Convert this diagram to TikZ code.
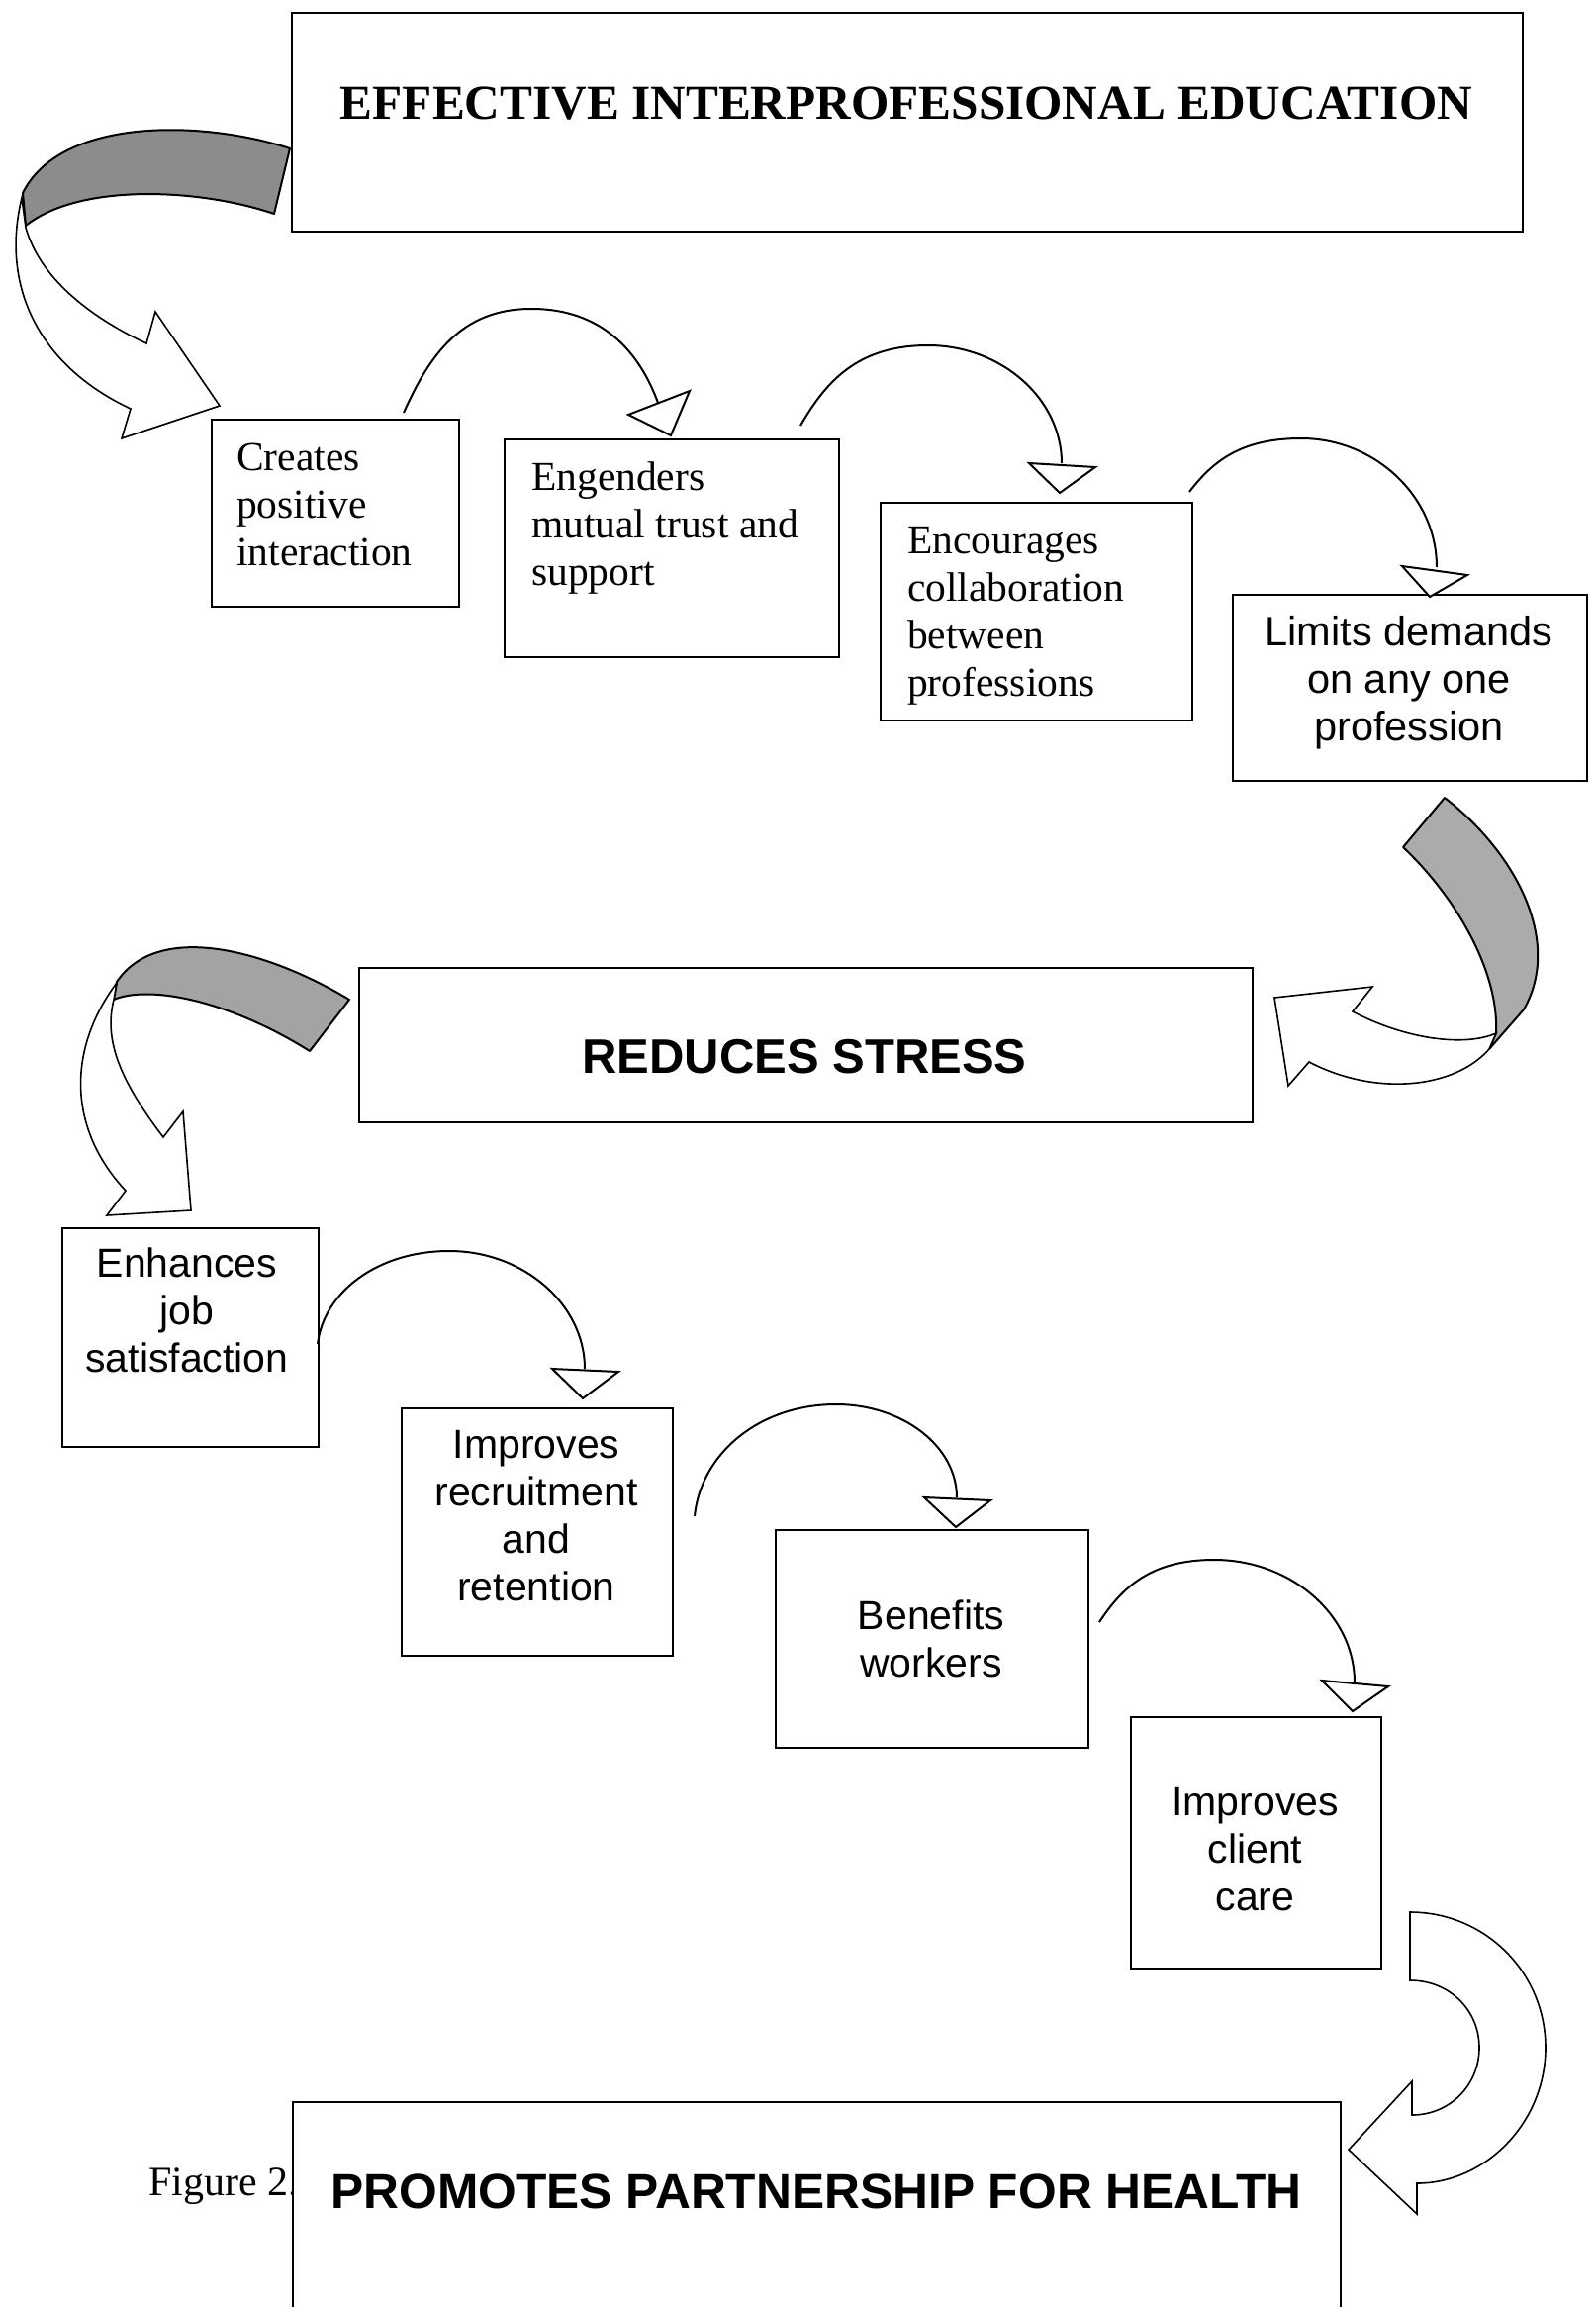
\documentclass[tikz,border=0pt]{standalone}
\usepackage{fontspec}
\setmainfont{Liberation Serif}
\setsansfont{Liberation Sans}
\begin{document}
\begin{tikzpicture}[x=1pt,y=-1pt,
  box/.style={draw=black, line width=2pt, fill=white, rectangle, inner sep=0pt, anchor=north west},
  serif/.style={inner sep=0pt, align=left, anchor=north west, font=\fontsize{41.5}{48}\selectfont},
  sans/.style={inner sep=0pt, align=center, anchor=north, font=\sffamily\fontsize{41}{48}\selectfont},
  link/.style={draw=black, line width=2pt},
  head/.style={draw=black, line width=2pt, fill=white, line join=miter},
  band/.style={draw=black, line width=2pt, line join=round},
  body/.style={draw=black, line width=1.6pt, fill=white, line join=miter}]

\useasboundingbox (0,0) rectangle (1613,2331);
\fill[white] (0,0) rectangle (1613,2331);

% ---------- ribbon arrow: education -> first step ----------
\draw[band, fill=black!45] (293,150) .. controls (200,120) and (60,120) .. (23,195)
  -- (26,228) .. controls (80,185) and (200,190) .. (277,216) -- cycle;
\draw[body] (22,200) .. controls (0,290) and (40,370) .. (132,413) -- (123,443) -- (222,410)
  -- (157,315) -- (148,347) .. controls (90,320) and (40,280) .. (26,230) -- cycle;

% ---------- ribbon arrow: limits demands -> reduces stress ----------
\draw[band, fill=black!33] (1460,806) .. controls (1530,860) and (1580,950) .. (1540,1020)
  -- (1505,1060) -- (1512,1044) .. controls (1515,980) and (1470,905) .. (1418,856) -- cycle;
\draw[body] (1512,1044) .. controls (1480,1058) and (1420,1050) .. (1367,1022) -- (1387,997)
  -- (1288,1008) -- (1302,1097) -- (1323,1073) .. controls (1390,1108) and (1470,1100) .. (1505,1060) -- cycle;

% ---------- ribbon arrow: reduces stress -> job satisfaction ----------
\draw[band, fill=black!36] (353,1010) .. controls (270,960) and (160,930) .. (118,992)
  -- (115,1010) .. controls (150,995) and (230,1010) .. (313,1062) -- cycle;
\draw[body] (118,993) .. controls (68,1060) and (68,1140) .. (127,1203) -- (108,1228) -- (193,1223)
  -- (185,1123) -- (165,1149) .. controls (120,1090) and (105,1050) .. (115,1010) -- cycle;

% ---------- U-turn arrow: client care -> partnership ----------
\draw[body] (1425,1932) .. controls (1501,1932) and (1562,1993) .. (1562,2069)
  .. controls (1562,2145) and (1501,2206) .. (1432,2206) -- (1432,2237) -- (1363,2172)
  -- (1427,2103) -- (1427,2137) .. controls (1465,2137) and (1495,2107) .. (1495,2069)
  .. controls (1495,2031) and (1465,2001) .. (1425,2001) -- cycle;

% ---------- boxes ----------
\node[box, line width=2.2pt, minimum width=1244pt, minimum height=221pt] (edu) at (294,12) {};
\node[box, minimum width=250pt, minimum height=189pt] (pos) at (213,423) {};
\node[box, minimum width=338pt, minimum height=220pt] (trust) at (509,443) {};
\node[box, minimum width=315pt, minimum height=220pt] (collab) at (889,507) {};
\node[box, minimum width=358pt, minimum height=188pt] (limits) at (1245,600) {};
\node[box, minimum width=903pt, minimum height=156pt] (stress) at (362,977) {};
\node[box, minimum width=259pt, minimum height=221pt] (job) at (62,1240) {};
\node[box, minimum width=274pt, minimum height=250pt] (recruit) at (405,1422) {};
\node[box, minimum width=316pt, minimum height=220pt] (workers) at (783,1545) {};
\node[box, minimum width=253pt, minimum height=254pt] (care) at (1142,1734) {};

% ---------- texts ----------
\node[inner sep=0pt, anchor=base, font=\bfseries\fontsize{49.3}{58}\selectfont] (eduT) at (916,120)
  {EFFECTIVE INTERPROFESSIONAL EDUCATION};
\node[serif] (posT) at (239,435) {\rule{0pt}{40pt}Creates\\positive\\interaction};
\node[serif] (trustT) at (537,455) {\rule{0pt}{40pt}Engenders\\mutual trust and\\support};
\node[serif] (collabT) at (917,519) {\rule{0pt}{40pt}Encourages\\collaboration\\between\\professions};
\node[sans, font=\sffamily\fontsize{41.5}{48}\selectfont] (limitsT) at (1424,612) {\rule{0pt}{40pt}Limits demands\\on any one\\profession};
\node[inner sep=0pt, anchor=base, font=\sffamily\bfseries\fontsize{49}{58}\selectfont] (stressT) at (813,1084)
  {REDUCES STRESS};
\node[sans] (jobT) at (189,1250) {\rule{0pt}{40pt}Enhances\\job\\satisfaction};
\node[sans] (recruitT) at (542,1433) {\rule{0pt}{40pt}Improves\\recruitment\\and\\retention};
\node[sans] (workersT) at (941,1606) {\rule{0pt}{40pt}Benefits\\workers};
\node[sans] (careT) at (1268.5,1794) {\rule{0pt}{40pt}Improves\\client\\care};

% ---------- caption and final box ----------
\node[inner sep=0pt, anchor=base west, font=\fontsize{42}{50}\selectfont] (cap) at (150,2218) {Figure 2.};
\node[box, minimum width=1059pt, minimum height=240pt] (health) at (295,2123) {};
\node[inner sep=0pt, anchor=base, font=\sffamily\bfseries\fontsize{49.7}{58}\selectfont] (healthT) at (825,2231)
  {PROMOTES PARTNERSHIP FOR HEALTH};

% ---------- curved connectors ----------
\coordinate (s1) at (408,417);  \coordinate (e1) at (665,407);
\coordinate (s2) at (809,430);  \coordinate (e2) at (1073,468);
\coordinate (s3) at (1202,497); \coordinate (e3) at (1452,573);
\coordinate (s5) at (321,1358); \coordinate (e5) at (591,1383);
\coordinate (s6) at (702,1532); \coordinate (e6) at (967,1513);
\coordinate (s7) at (1111,1639); \coordinate (e7) at (1369,1700);

\draw[link] (s1) .. controls (434,359) and (466,312) .. (537,312) .. controls (608,312) and (646,355) .. (e1);
\draw[head] (635,419) -- (697,395) -- (678,440) -- cycle;

\draw[link] (s2) .. controls (835,385) and (867,349) .. (938,349) .. controls (1012,349) and (1073,403) .. (e2);
\draw[head] (1040,468) -- (1107,472) -- (1071,498) -- cycle;

\draw[link] (s3) .. controls (1225,467) and (1253,443) .. (1315,443) .. controls (1390,443) and (1452,502) .. (e3);
\draw[head] (1417,572) -- (1483,581) -- (1445,603) -- cycle;

\draw[link] (s5) .. controls (327,1306) and (381,1264) .. (454,1264) .. controls (529,1264) and (591,1318) .. (e5);
\draw[head] (558,1383) -- (625,1386) -- (589,1413) -- cycle;

\draw[link] (s6) .. controls (708,1470) and (766,1419) .. (845,1419) .. controls (912,1419) and (967,1461) .. (e6);
\draw[head] (934,1513) -- (1001,1516) -- (966,1543) -- cycle;

\draw[link] (s7) .. controls (1134,1604) and (1163,1576) .. (1227,1576) .. controls (1305,1576) and (1369,1632) .. (e7);
\draw[head] (1336,1698) -- (1403,1704) -- (1367,1729) -- cycle;

\end{tikzpicture}
\end{document}
